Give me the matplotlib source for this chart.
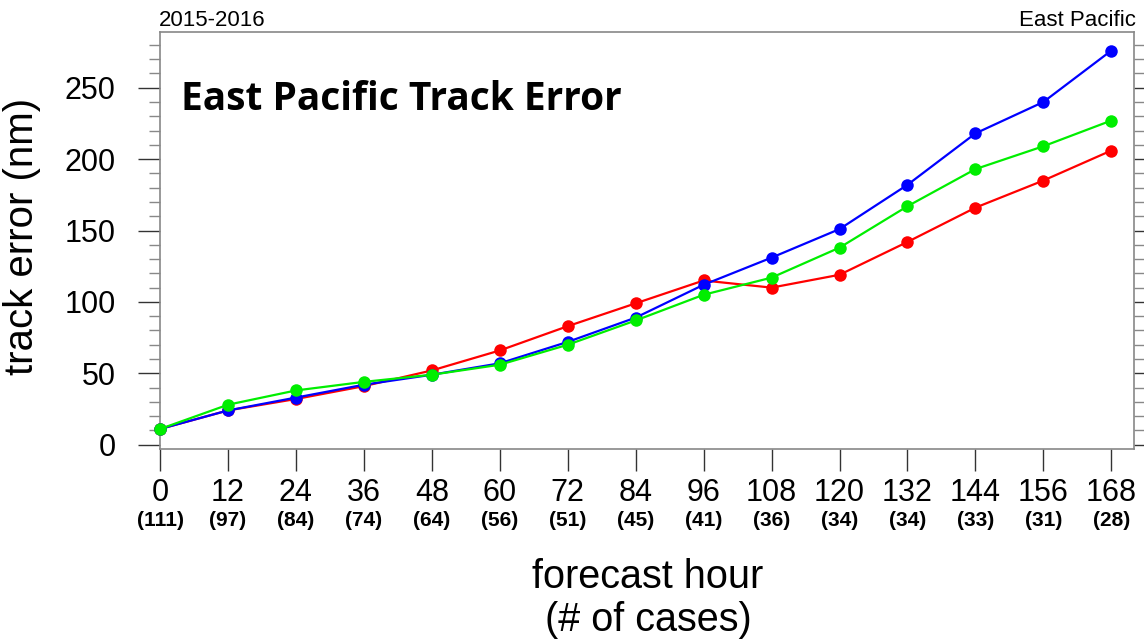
import matplotlib
matplotlib.use("Agg")
import matplotlib.pyplot as plt
from matplotlib.ticker import MultipleLocator
from matplotlib.transforms import blended_transform_factory

# Forecast lead times and verification sample sizes
hours = [0, 12, 24, 36, 48, 60, 72, 84, 96, 108, 120, 132, 144, 156, 168]
cases = [111, 97, 84, 74, 64, 56, 51, 45, 41, 36, 34, 34, 33, 31, 28]

# Mean track errors (nm) per model
err_red = [11, 24, 32, 41, 52, 66, 83, 99, 115, 110, 119, 142, 166, 185, 206]
err_blue = [11, 24, 33, 42, 49, 57, 72, 89, 112, 131, 151, 182, 218, 240, 276]
err_green = [11, 28, 38, 44, 49, 56, 70, 87, 105, 117, 138, 167, 193, 209, 227]

y_ticks = [0, 50, 100, 150, 200, 250]

plt.rcParams["font.family"] = ["Liberation Sans", "DejaVu Sans"]

W, H = 1144, 641
fig = plt.figure(figsize=(W / 100, H / 100), dpi=100)
ax = fig.add_axes([160 / W, 1 - 449 / H, (1134 - 160) / W, (449 - 32) / H])

for vals, col in [(err_red, "#ff0000"), (err_blue, "#0000ff"), (err_green, "#00ee00")]:
    ax.plot(hours, vals, color=col, lw=1.6, marker="o", ms=9,
            markeredgewidth=0, clip_on=False, zorder=3)

ax.set_xlim(0, 172)
ax.set_ylim(-3, 289)
ax.set_xticks(hours)
ax.set_xticklabels([str(h) for h in hours], fontsize=22)
ax.set_yticks(y_ticks)
ax.set_yticklabels([str(v) for v in y_ticks], fontsize=22)
ax.yaxis.set_minor_locator(MultipleLocator(10))

for s in ax.spines.values():
    s.set_color("#888888")
    s.set_linewidth(1.2)

ax.tick_params(axis="x", which="major", direction="out", length=16, width=1,
               color="#333333", pad=5)
ax.tick_params(axis="y", which="major", direction="out", length=16, width=1,
               color="#333333", pad=16, right=True)
ax.tick_params(axis="y", which="minor", direction="out", length=8, width=1,
               color="#888888", right=True)

# Sample size under each lead time
trans = blended_transform_factory(ax.transData, fig.transFigure)
for h, n in zip(hours, cases):
    ax.text(h, 1 - 521 / H, f"({n})", transform=trans, ha="center", va="center",
            fontsize=15, fontweight="bold")

fig.text(22 / W, 1 - 236 / H, "track error (nm)", rotation=90, ha="center",
         va="center", fontsize=29)
fig.text(648 / W, 1 - 577 / H, "forecast hour", ha="center", va="center", fontsize=28.5)
fig.text(648 / W, 1 - 620 / H, "(# of cases)", ha="center", va="center", fontsize=28.5)

fig.text(159 / W, 1 - 20 / H, "2015-2016", ha="left", va="center", fontsize=16)
fig.text(1136 / W, 1 - 20 / H, "East Pacific", ha="right", va="center", fontsize=16)

fig.text(181 / W, 1 - 100 / H, "East Pacific Track Error", ha="left", va="center",
         fontsize=28, fontweight="bold", family=["Open Sans", "DejaVu Sans"])

fig.savefig("out.png", dpi=100)
